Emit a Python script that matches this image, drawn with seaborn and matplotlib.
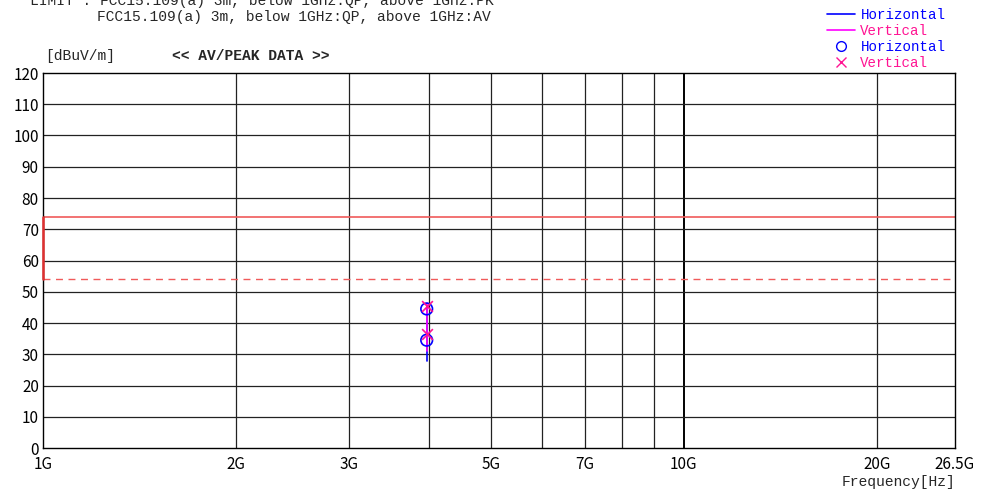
import numpy as np
import pandas as pd
import matplotlib
matplotlib.use("Agg")
import matplotlib.pyplot as plt
from matplotlib.lines import Line2D
import seaborn as sns

# ---- data ----
freq_trace_h = [3.97e9, 3.97e9]
level_trace_h = [28.0, 45.0]
freq_trace_v = [3.97e9, 3.97e9]
level_trace_v = [31.0, 46.5]
freq_mark_h = [3.97e9, 3.97e9]
level_mark_h = [44.5, 34.5]
freq_mark_v = [3.97e9, 3.97e9]
level_mark_v = [45.5, 36.5]
limit_pk = 74.0
limit_av = 54.0
xtick_vals = [1e9, 2e9, 3e9, 5e9, 7e9, 10e9, 20e9, 26.5e9]
xtick_labels = ["1G", "2G", "3G", "5G", "7G", "10G", "20G", "26.5G"]
grid_x = [2e9, 3e9, 4e9, 5e9, 6e9, 7e9, 8e9, 9e9, 10e9, 20e9]
ytick_vals = list(range(0, 121, 10))

sns.set_theme(style="white")
plt.rcParams["font.family"] = ["Noto Sans CJK JP", "DejaVu Sans"]
MONO = ["Liberation Mono", "DejaVu Sans Mono"]

fig = plt.figure(figsize=(9.84, 4.94), dpi=100)
ax = fig.add_axes([43/984, 1-448/494, (955-43)/984, (448-73)/494])

BLUE = "#0000ff"
MAG = "#ff00ff"
PINK = "#ff1493"

# grid
for g in grid_x:
    if g == 10e9:
        ax.axvline(g, color="black", lw=1.4, zorder=1)
    else:
        ax.axvline(g, color="#222222", lw=0.9, zorder=1)
for yv in ytick_vals[1:-1]:
    ax.axhline(yv, color="#222222", lw=0.9, zorder=1)

# limits
ax.axhline(limit_pk, color="#f05a5a", lw=1.2, zorder=2)
ax.axhline(limit_av, color="#f05a5a", lw=1.0, ls=(0, (5, 4)), zorder=2)
ax.plot([1e9, 1e9], [limit_av, limit_pk], color="#e03030", lw=1.8, zorder=5, clip_on=False)

df_h = pd.DataFrame({"f": freq_trace_h, "lvl": level_trace_h})
df_v = pd.DataFrame({"f": freq_trace_v, "lvl": level_trace_v})
sns.lineplot(data=df_h, x="f", y="lvl", ax=ax, color=BLUE, lw=1.2, estimator=None, sort=False, zorder=3)
sns.lineplot(data=df_v, x="f", y="lvl", ax=ax, color=MAG, lw=1.2, estimator=None, sort=False, zorder=4)

dm_h = pd.DataFrame({"f": freq_mark_h, "lvl": level_mark_h})
dm_v = pd.DataFrame({"f": freq_mark_v, "lvl": level_mark_v})
sns.scatterplot(data=dm_h, x="f", y="lvl", ax=ax, marker="o", s=70, facecolor="none",
                edgecolor=BLUE, linewidth=1.2, zorder=6)
sns.scatterplot(data=dm_v, x="f", y="lvl", ax=ax, marker="x", s=60, color=PINK,
                linewidth=1.2, zorder=7)

ax.set_xscale("log")
ax.set_xlim(1e9, 26.5e9)
ax.set_ylim(0, 120)
ax.set_xticks(xtick_vals)
ax.set_xticklabels(xtick_labels)
ax.xaxis.set_minor_locator(matplotlib.ticker.NullLocator())
ax.set_yticks(ytick_vals)
ax.tick_params(axis="both", length=0, labelsize=11, colors="black")
ax.tick_params(axis="x", pad=6)
ax.tick_params(axis="y", pad=3)
ax.set_xlabel("")
ax.set_ylabel("")
for s in ax.spines.values():
    s.set_color("black")
    s.set_linewidth(1.0)

# texts
fig.text(30/984, 1-1/494, "LIMIT : FCC15.109(a) 3m, below 1GHz:QP, above 1GHz:PK",
         fontsize=10.5, va="center", ha="left", family=MONO)
fig.text(97/984, 1-17/494, "FCC15.109(a) 3m, below 1GHz:QP, above 1GHz:AV",
         fontsize=10.5, va="center", ha="left", family=MONO)
fig.text(45/984, 1-56/494, "[dBuV/m]", fontsize=10.5, va="center", ha="left", family=MONO)
fig.text(172/984, 1-56/494, "<< AV/PEAK DATA >>", fontsize=10.5, fontweight="bold",
         va="center", ha="left", family=MONO)
fig.text(955/984, 1-482/494, "Frequency[Hz]", fontsize=10.5, va="center", ha="right",
         family=MONO)

handles = [
    Line2D([], [], color=BLUE, lw=1.2),
    Line2D([], [], color=MAG, lw=1.2),
    Line2D([], [], color=BLUE, marker="o", ls="none", markerfacecolor="none", markersize=7),
    Line2D([], [], color=PINK, marker="x", ls="none", markersize=7),
]
labels = ["Horizontal", "Vertical", "Horizontal", "Vertical"]
fig.legend(handles, labels, loc="upper left", bbox_to_anchor=(820/984, 1-1/494),
           frameon=False, labelspacing=0.15, handlelength=2.0,
           handletextpad=0.35, borderpad=0.0,
           labelcolor=[BLUE, PINK, BLUE, PINK],
           prop={"family": MONO, "size": 10.2})

fig.savefig("out.png", dpi=100)
